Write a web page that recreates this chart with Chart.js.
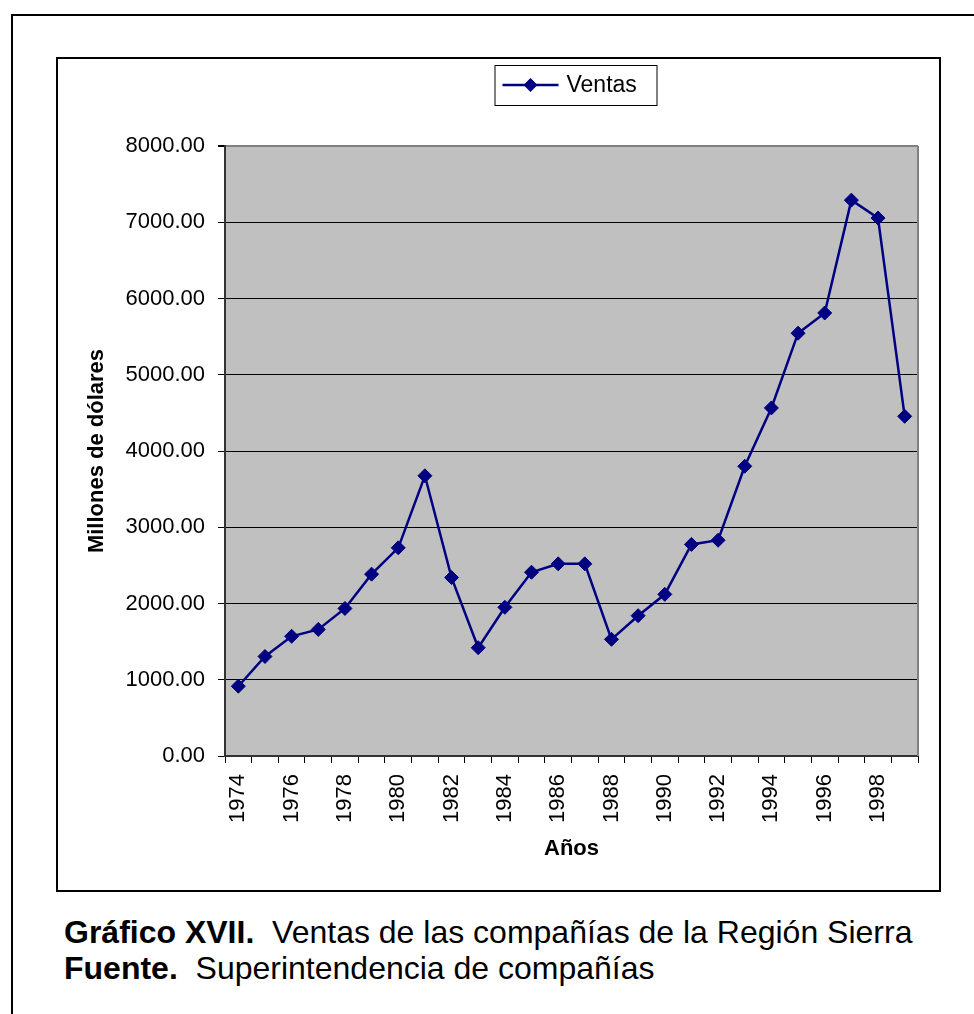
<!DOCTYPE html>
<html>
<head>
<meta charset="utf-8">
<script src="https://cdn.jsdelivr.net/npm/chart.js@4"></script>
<style>
  html, body { margin: 0; padding: 0; background: #fff; overflow: hidden; }
  body { width: 974px; height: 1014px; position: relative; font-family: "Liberation Sans", Arial, sans-serif; }
  #outer { position: absolute; left: 11px; top: 14px; width: 1100px; height: 1100px; border: 2px solid #000; box-sizing: border-box; }
  #inner { position: absolute; left: 56px; top: 57px; width: 885px; height: 835px; border: 2px solid #000; box-sizing: border-box; }
  #chart { position: absolute; left: 0; top: 0; }
  .cap { position: absolute; left: 64px; font-size: 32px; color: #000; white-space: pre; }
  .cap b { font-weight: bold; }
</style>
</head>
<body>
<div id="outer"></div>
<div id="inner"><canvas id="chart" width="881" height="831"></canvas></div>
<div class="cap" style="top:914px"><b>Gráfico XVII.</b>  Ventas de las compañías de la Región Sierra</div>
<div class="cap" style="top:950px"><b>Fuente.</b>  Superintendencia de compañías</div>
<script>
// datos
const years = ['1974','1975','1976','1977','1978','1979','1980','1981','1982','1983','1984','1985','1986',
  '1987','1988','1989','1990','1991','1992','1993','1994','1995','1996','1997','1998','1999'];
const ventas = [915, 1305, 1570, 1660, 1935, 2385, 2730, 3675, 2340, 1420, 1950, 2410, 2520,
  2520, 1530, 1840, 2120, 2775, 2830, 3800, 4565, 5545, 5810, 7290, 7055, 4455];
const yTicks = { min: 0, max: 8000, step: 1000 };
const seriesName = 'Ventas';
const FONT = '"Liberation Sans", Arial, sans-serif';
const NAVY = '#000080';

const plotBg = {
  id: 'plotBg',
  beforeDraw(chart) {
    const { ctx, chartArea: a } = chart;
    ctx.save();
    ctx.fillStyle = '#C0C0C0';
    ctx.fillRect(a.left, a.top, a.right - a.left, a.bottom - a.top);
    ctx.restore();
  },
  beforeDatasetsDraw(chart) {
    const { ctx, chartArea: a } = chart;
    ctx.save();
    ctx.strokeStyle = '#808080';
    ctx.lineWidth = 2;
    ctx.beginPath();
    ctx.moveTo(a.right, a.top);
    ctx.lineTo(a.right, a.bottom);
    ctx.stroke();
    ctx.restore();
  }
};

// leyenda con linea y rombo dentro de un recuadro
const boxLegend = {
  id: 'boxLegend',
  afterDraw(chart) {
    const { ctx, chartArea: a } = chart;
    const ds = chart.data.datasets[0];
    const w = 162, h = 40;
    const x = (a.left + a.right) / 2 - 77;
    const y = 6;
    ctx.save();
    ctx.fillStyle = '#fff';
    ctx.fillRect(x, y, w, h);
    ctx.strokeStyle = '#000';
    ctx.lineWidth = 1;
    ctx.strokeRect(x + 0.5, y + 0.5, w, h);
    const cy = y + h / 2;
    ctx.strokeStyle = NAVY;
    ctx.lineWidth = 2.5;
    ctx.beginPath();
    ctx.moveTo(x + 8, cy);
    ctx.lineTo(x + 64, cy);
    ctx.stroke();
    ctx.fillStyle = NAVY;
    ctx.beginPath();
    ctx.moveTo(x + 36, cy - 7);
    ctx.lineTo(x + 43, cy);
    ctx.lineTo(x + 36, cy + 7);
    ctx.lineTo(x + 29, cy);
    ctx.closePath();
    ctx.fill();
    ctx.fillStyle = '#000';
    ctx.font = '23px ' + FONT;
    ctx.textBaseline = 'middle';
    ctx.fillText(ds.label, x + 72, cy + 1);
    ctx.restore();
  }
};

new Chart(document.getElementById('chart').getContext('2d'), {
  type: 'line',
  data: {
    labels: years,
    datasets: [{
      label: seriesName,
      data: ventas,
      borderColor: NAVY,
      backgroundColor: NAVY,
      borderWidth: 2.5,
      tension: 0,
      pointStyle: 'rectRot',
      pointRadius: 7,
      pointBorderWidth: 1,
      pointBackgroundColor: NAVY,
      pointBorderColor: NAVY
    }]
  },
  options: {
    responsive: false,
    animation: false,
    devicePixelRatio: 1,
    layout: { padding: { left: 0, top: 87, right: 21, bottom: 0 } },
    plugins: {
      legend: { display: false },
      tooltip: { enabled: false }
    },
    scales: {
      x: {
        offset: true,
        afterFit(scale) {
          scale.height = 134;
          scale.paddingLeft = 0;
          scale.paddingRight = 0;
        },
        grid: { offset: true, drawOnChartArea: false, drawTicks: true, tickLength: 7, color: '#000' },
        border: { color: '#333', width: 2 },
        ticks: {
          autoSkip: false,
          minRotation: 90,
          maxRotation: 90,
          padding: 11,
          color: '#000',
          font: { family: FONT, size: 22 },
          callback(v, i) { return i % 2 === 0 ? this.getLabelForValue(v) : ''; }
        },
        title: {
          display: true,
          text: 'Años',
          color: '#000',
          font: { family: FONT, size: 22, weight: 'bold' },
          padding: { top: 0, bottom: 28 }
        }
      },
      y: {
        min: yTicks.min,
        max: yTicks.max,
        afterFit(scale) {
          scale.width = 167;
          scale.paddingTop = 0;
          scale.paddingBottom = 0;
        },
        grid: {
          color: (c) => (c.tick && c.tick.value === yTicks.max) ? '#808080' : '#000',
          lineWidth: (c) => (c.tick && c.tick.value === yTicks.max) ? 2 : 1,
          tickColor: '#000',
          tickLength: 7
        },
        border: { color: '#333', width: 2 },
        ticks: {
          stepSize: yTicks.step,
          padding: 13,
          color: '#000',
          font: { family: FONT, size: 22 },
          callback: (v) => Number(v).toFixed(2)
        },
        title: {
          display: true,
          text: 'Millones de dólares',
          color: '#000',
          font: { family: FONT, size: 22, weight: 'bold' },
          padding: { top: 26, bottom: 0 }
        }
      }
    }
  },
  plugins: [plotBg, boxLegend]
});
</script>
</body>
</html>
